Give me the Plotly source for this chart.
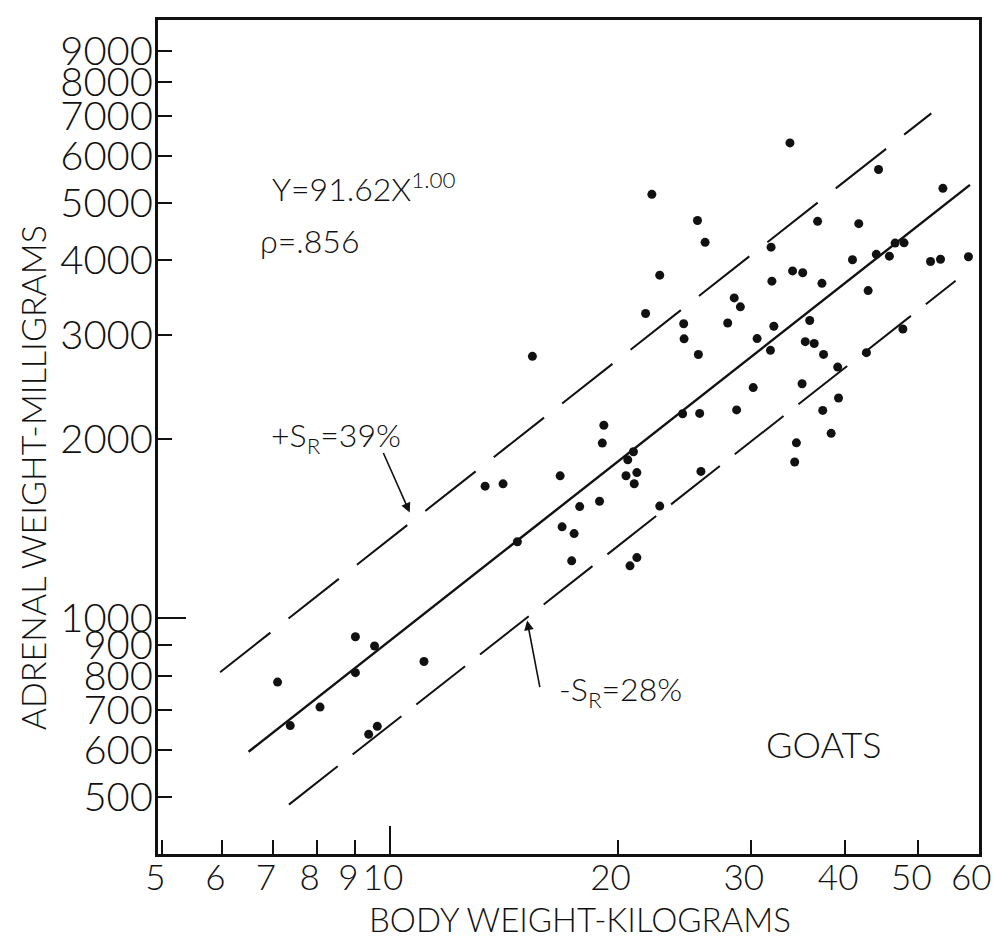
import numpy as np
import plotly.graph_objects as go

# ---- data ----
body_kg = [7.10, 7.38, 8.08, 9.00, 9.00, 9.54, 9.37, 9.62, 11.09, 13.36,
           14.11, 15.43, 14.74, 16.79, 16.89, 17.52, 17.39, 17.82, 18.93, 19.09,
           19.18, 20.52, 20.63, 20.99, 21.21, 21.04, 20.77, 21.21, 21.78, 22.20,
           22.74, 22.74, 24.46, 24.49, 24.38, 25.58, 25.68, 25.78, 25.51, 26.11,
           27.97, 28.53, 29.07, 28.74, 30.23, 30.59, 31.86, 31.92, 32.0, 32.19,
           34.30, 33.81, 34.08, 34.48, 35.08, 35.15, 35.42, 35.91, 36.4, 36.78,
           37.36, 37.27, 37.45, 38.33, 39.1, 39.2, 40.9, 41.69, 42.68, 42.9,
           43.98, 44.28, 45.77, 46.57, 47.69, 47.86, 51.88, 53.48, 53.87, 58.23]
adrenal_mg = [780, 659, 708, 930, 809, 897, 637, 657, 845, 1667,
              1682, 2757, 1344, 1735, 1424, 1387, 1248, 1540, 1572, 1970,
              2111, 1736, 1846, 1905, 1757, 1683, 1224, 1264, 3256, 5167,
              1543, 3777, 3128, 2951, 2207, 2777, 2210, 1765, 4669, 4289,
              3138, 3458, 3341, 2240, 2443, 2954, 2822, 4210, 3690, 3099,
              1831, 6306, 3840, 1972, 2479, 3813, 2919, 3168, 2898, 4653,
              2236, 3659, 2778, 2046, 2645, 2346, 4009, 4612, 2797, 3558,
              4094, 5690, 4066, 4277, 3065, 4281, 3983, 4017, 5288, 4057]

fit_coef = 91.62          # Y = 91.62 X^1.00
upper_coef = 136.0        # upper dashed band as drawn
lower_coef = 66.0         # lower dashed band as drawn
fit_x = [6.5, 58.5]
upper_x = [5.96, 52.0]
lower_x = [7.35, 56.0]

x_tickvals = [5, 6, 7, 8, 9, 10, 20, 30, 40, 50, 60]
x_ticktext = ["5", "6", "7", "8", "9", "10", "20", "30", "40", "50", "60"]
y_tickvals = [500, 600, 700, 800, 900, 1000, 2000, 3000, 4000, 5000, 6000, 7000, 8000, 9000]
y_ticktext = ["500", "600", "700", "800", "900", "1000", "2000", "3000", "4000",
              "5000", "6000", "7000", "8000", "9000"]

FONT = "Lato"
INK = "#111111"

fig = go.Figure()

def band(xs, coef, dash, width):
    xs = np.array(xs, dtype=float)
    fig.add_trace(go.Scatter(x=xs, y=coef * xs, mode="lines",
                             line=dict(color=INK, width=width, dash=dash),
                             hoverinfo="skip", showlegend=False))

band(upper_x, upper_coef, "64px,23px", 2)
band(fit_x, fit_coef, "solid", 2.4)
band(lower_x, lower_coef, "62px,19px", 2)

fig.add_trace(go.Scatter(x=body_kg, y=adrenal_mg, mode="markers",
                         marker=dict(color=INK, size=9),
                         showlegend=False))

# invisible trace to activate overlay axes (long ticks at 10 and 1000)
fig.add_trace(go.Scatter(x=[10], y=[1000], xaxis="x2", yaxis="y2", mode="markers",
                         marker=dict(opacity=0), hoverinfo="skip", showlegend=False))

xr = [0.6931, 1.7791]
yr = [2.6027, 4.0067]

fig.update_layout(
    width=993, height=941,
    margin=dict(l=158, r=14, t=20, b=87, autoexpand=False),
    paper_bgcolor="white", plot_bgcolor="white",
    font=dict(family=FONT, color=INK),
    xaxis=dict(type="log", range=xr, tickmode="array", tickvals=x_tickvals,
               ticktext=x_ticktext, ticks="inside", ticklen=14, tickwidth=1.6,
               tickcolor=INK, showgrid=False, zeroline=False, automargin=False,
               showline=True, linecolor=INK, linewidth=3, mirror=True,
               tickfont=dict(family=FONT, size=35, color=INK, weight=300),
               ticklabelstandoff=-9, ticklabeloverflow="allow", ticklabelshift=-7),
    yaxis=dict(type="log", range=yr, tickmode="array", tickvals=y_tickvals,
               ticktext=y_ticktext, ticks="inside", ticklen=14, tickwidth=1.6,
               tickcolor=INK, showgrid=False, zeroline=False, automargin=False,
               showline=True, linecolor=INK, linewidth=3, mirror=True,
               tickfont=dict(family=FONT, size=40, color=INK, weight=300),
               ticklabelstandoff=-6, ticklabeloverflow="allow"),
    xaxis2=dict(type="log", range=xr, overlaying="x", anchor="y", tickmode="array",
                tickvals=[10], ticks="inside", ticklen=28, tickwidth=1.6, tickcolor=INK,
                showticklabels=False, showgrid=False, zeroline=False, showline=False,
                automargin=False),
    yaxis2=dict(type="log", range=yr, overlaying="y", anchor="x", tickmode="array",
                tickvals=[1000], ticks="inside", ticklen=28, tickwidth=1.6, tickcolor=INK,
                showticklabels=False, showgrid=False, zeroline=False, showline=False,
                automargin=False),
)

def txt(x, y, text, size, xanchor="left", angle=0):
    fig.add_annotation(xref="paper", yref="paper", x=x, y=y, text=text,
                       showarrow=False, xanchor=xanchor, yanchor="middle",
                       textangle=angle,
                       font=dict(family=FONT, size=size, color=INK, weight=300))

txt(0.137, 0.800, "Y=91.62X<sup>1.00</sup>", 32)
txt(0.122, 0.736, "ρ=.856", 32)
txt(0.135, 0.500, "+S<sub>R</sub>=39%", 32)
txt(0.486, 0.196, "-S<sub>R</sub>=28%", 32)
txt(0.810, 0.132, "GOATS", 36, xanchor="center")
txt(0.5135, -0.0785, "BODY WEIGHT-KILOGRAMS", 33, xanchor="center")
txt(-0.153, 0.451, "ADRENAL WEIGHT-MILLIGRAMS", 34, xanchor="center", angle=-90)

# arrows
fig.add_annotation(xref="paper", yref="paper", x=0.3066, y=0.4095, ax=-27, ay=-61,
                   text="", showarrow=True, arrowhead=2, arrowsize=1.2,
                   arrowwidth=1.6, arrowcolor=INK)
fig.add_annotation(xref="paper", yref="paper", x=0.4496, y=0.2799, ax=13, ay=68,
                   text="", showarrow=True, arrowhead=2, arrowsize=1.2,
                   arrowwidth=1.6, arrowcolor=INK)

fig.write_html("out.html", config={"displayModeBar": False},
               post_script="document.body.style.margin='0';document.body.style.padding='0';")
